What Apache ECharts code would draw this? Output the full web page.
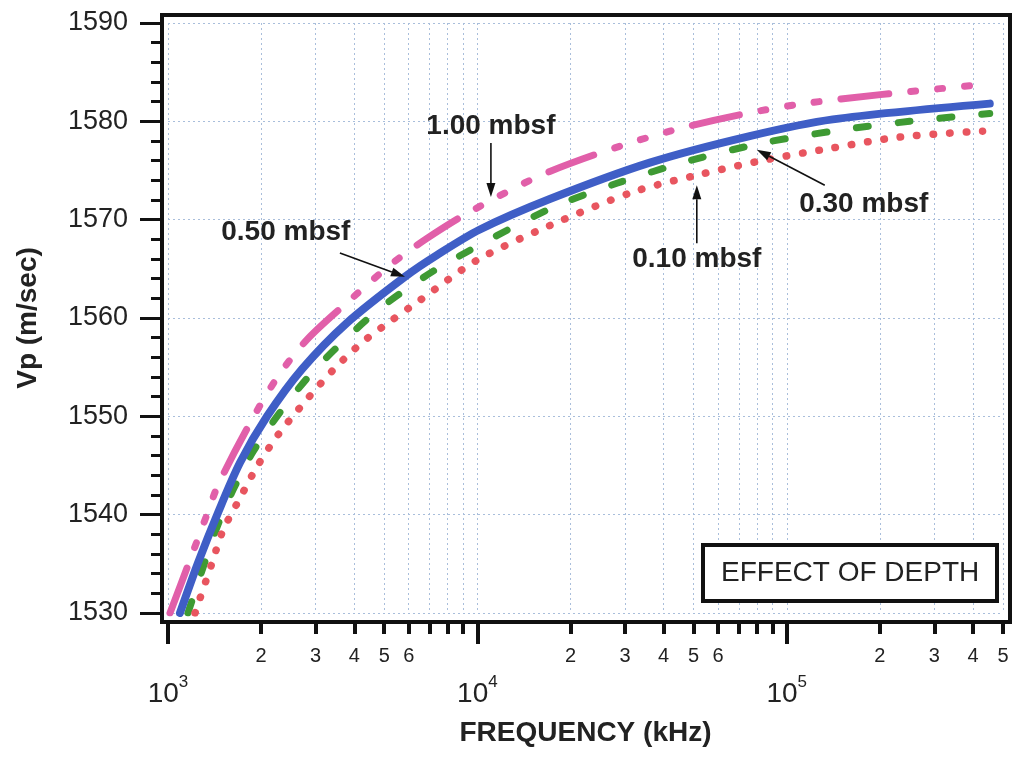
<!DOCTYPE html>
<html>
<head>
<meta charset="utf-8">
<script src="https://cdn.jsdelivr.net/npm/echarts@6/dist/echarts.min.js"></script>
<style>
  html, body { margin: 0; padding: 0; background: #fff; }
  #chart { width: 1014px; height: 757px; }
</style>
</head>
<body>
<div id="chart"></div>
<script>
// Compressional wave velocity versus frequency, one curve per sediment depth.
// Frequencies in kHz, velocities in m/sec.
const depthLabels = ['1.00 mbsf', '0.50 mbsf', '0.30 mbsf', '0.10 mbsf'];

const freq100 = [1015, 1178, 1336, 1451, 1812, 2249, 2814, 3963, 5330, 6870, 9460, 17140, 41900, 107700, 453000];
const vp100   = [1530.0, 1535.4, 1540.0, 1543.0, 1548.9, 1553.9, 1557.8, 1562.1, 1565.6, 1568.1, 1570.8, 1574.9, 1579.0, 1581.7, 1583.8];

const freq050 = [1093, 1250, 1451, 1710, 2090, 2711, 3786, 5833, 7400, 10190, 17140, 36100, 75900, 140900, 453000];
const vp050   = [1530.0, 1535.1, 1540.2, 1545.3, 1550.0, 1554.8, 1559.5, 1564.2, 1566.4, 1569.0, 1572.1, 1575.8, 1578.5, 1580.2, 1581.8];

const freq030 = [1160, 1297, 1439, 1622, 1883, 2301, 2876, 3675, 4770, 6190, 7970, 17140, 28240, 48600, 83600, 148300, 249600, 453000];
const vp030   = [1530.0, 1534.6, 1538.7, 1542.5, 1546.4, 1550.4, 1554.2, 1557.6, 1560.8, 1563.4, 1565.6, 1571.1, 1573.7, 1576.0, 1577.8, 1579.1, 1580.0, 1580.8];

const freq010 = [1223, 1388, 1506, 1710, 1941, 2266, 2773, 3415, 4236, 5300, 6520, 10000, 17140, 31750, 52400, 86100, 140900, 231700, 429500];
const vp010   = [1530.0, 1535.1, 1538.4, 1541.7, 1544.9, 1548.1, 1551.5, 1554.7, 1557.5, 1559.8, 1561.8, 1565.9, 1569.4, 1572.8, 1574.6, 1576.1, 1577.3, 1578.4, 1579.0];

// Axis ticks
const freqMajorTicks = [1e3, 1e4, 1e5];
const freqMinorTicks = [2e3, 3e3, 4e3, 5e3, 6e3, 7e3, 8e3, 9e3,
                        2e4, 3e4, 4e4, 5e4, 6e4, 7e4, 8e4, 9e4,
                        2e5, 3e5, 4e5, 5e5];
const freqMinorLabels = [2e3, 3e3, 4e3, 5e3, 6e3, 2e4, 3e4, 4e4, 5e4, 6e4, 2e5, 3e5, 4e5, 5e5];
const freqMin = 1e3, freqMax = 5e5;
const vpMin = 1530, vpMax = 1590, vpStep = 10;

const FONT = '"Liberation Sans", Arial, Helvetica, sans-serif';
const INK = '#222';
const GRID_LINE = { show: true, lineStyle: { color: '#a9bedb', width: 1, type: [2, 3] } };

function pairs(xs, ys) { return xs.map((x, i) => [x, ys[i]]); }

const chart = echarts.init(document.getElementById('chart'), null, { renderer: 'canvas' });

const option = {
  backgroundColor: '#fff',
  animation: false,
  title: {
    text: 'EFFECT OF DEPTH',
    left: 703, top: 545,
    padding: [14, 18],
    borderColor: '#111', borderWidth: 4,
    backgroundColor: '#fff',
    textStyle: { fontFamily: FONT, fontSize: 28, fontWeight: 'normal', color: INK }
  },
  grid: [
    { left: 168, right: 11, top: 23, bottom: 144, outerBoundsMode: 'none' },
    { left: 162, right: 4, top: 15, bottom: 135, show: true, borderColor: '#111', borderWidth: 4,
      backgroundColor: 'transparent', outerBoundsMode: 'none' }
  ],
  xAxis: [
    {
      // decades: long ticks and power-of-ten labels
      type: 'log', logBase: 10, gridIndex: 0, min: freqMin, max: freqMax,
      position: 'bottom', offset: 9,
      axisLine: { show: false },
      axisTick: { show: true, length: 22, customValues: freqMajorTicks, lineStyle: { color: '#111', width: 4 } },
      axisLabel: {
        customValues: freqMajorTicks, margin: 52,
        formatter: v => '{b|10}{s|' + Math.round(Math.log10(v)) + '}',
        rich: {
          b: { fontFamily: FONT, fontSize: 28, color: INK, lineHeight: 34, verticalAlign: 'bottom' },
          s: { fontFamily: FONT, fontSize: 17, color: INK, lineHeight: 17, verticalAlign: 'top' }
        }
      },
      splitLine: GRID_LINE,
      name: 'FREQUENCY (kHz)', nameLocation: 'middle', nameGap: 97,
      nameTextStyle: { fontFamily: FONT, fontSize: 28, fontWeight: 'bold', color: INK }
    },
    {
      // intermediate multiples inside each decade
      type: 'log', logBase: 10, gridIndex: 0, min: freqMin, max: freqMax,
      position: 'bottom', offset: 9,
      axisLine: { show: false },
      axisTick: { show: true, length: 12, customValues: freqMinorTicks, lineStyle: { color: '#111', width: 4 } },
      axisLabel: {
        customValues: freqMinorLabels, margin: 24,
        fontFamily: FONT, fontSize: 20, color: INK,
        formatter: v => String(Math.round(v / Math.pow(10, Math.floor(Math.log10(v) + 1e-9))))
      },
      splitLine: GRID_LINE
    },
    { type: 'value', gridIndex: 1, show: false, min: 0, max: 1 }
  ],
  yAxis: [
    {
      type: 'value', gridIndex: 0, min: vpMin, max: vpMax, interval: vpStep,
      position: 'left', offset: 6,
      axisLine: { show: false },
      axisTick: { show: true, length: 22, lineStyle: { color: '#111', width: 3 } },
      minorTick: { show: true, splitNumber: 5, length: 11, lineStyle: { color: '#111', width: 3 } },
      axisLabel: { margin: 34, fontFamily: FONT, fontSize: 27, color: INK, formatter: v => String(v) },
      splitLine: GRID_LINE,
      name: 'Vp (m/sec)', nameLocation: 'middle', nameRotate: 90, nameGap: 120,
      nameTextStyle: { fontFamily: FONT, fontSize: 28, fontWeight: 'bold', color: INK }
    },
    { type: 'value', gridIndex: 1, show: false, min: 0, max: 1 }
  ],
  series: [
    {
      name: depthLabels[0], type: 'line', xAxisIndex: 0, yAxisIndex: 0,
      data: pairs(freq100, vp100), showSymbol: false, symbol: 'none', smooth: 0.3, z: 3,
      lineStyle: { color: '#e15fa9', width: 7, cap: 'round', type: [48, 22, 5, 22, 5, 22, 5, 22] }
    },
    {
      name: depthLabels[2], type: 'line', xAxisIndex: 0, yAxisIndex: 0,
      data: pairs(freq030, vp030), showSymbol: false, symbol: 'none', smooth: 0.3, z: 3,
      lineStyle: { color: '#3e9a33', width: 7, cap: 'round', type: [12, 30] }
    },
    {
      name: depthLabels[3], type: 'line', xAxisIndex: 0, yAxisIndex: 0,
      data: pairs(freq010, vp010), showSymbol: false, symbol: 'none', smooth: 0.3, z: 3,
      lineStyle: { color: '#e8555f', width: 7.5, cap: 'round', type: [0.5, 16] }
    },
    {
      name: depthLabels[1], type: 'line', xAxisIndex: 0, yAxisIndex: 0,
      data: pairs(freq050, vp050), showSymbol: false, symbol: 'none', smooth: 0.3, z: 4,
      lineStyle: { color: '#3f5ec6', width: 8, cap: 'round' }
    }
  ]
};

chart.setOption(option);

// Callouts: label centre, arrow tail and arrow tip, all in (kHz, m/sec)
const callouts = [
  { text: depthLabels[0], at: [11060, 1579.5], from: [11060, 1577.8], to: [11060, 1572.3] },
  { text: depthLabels[1], at: [2404, 1568.7], from: [3594, 1566.6], to: [5833, 1564.2] },
  { text: depthLabels[2], at: [177400, 1571.6], from: [132700, 1573.5], to: [80000, 1577.1] },
  { text: depthLabels[3], at: [51200, 1566.0], from: [51200, 1567.6], to: [51200, 1573.5] }
];

function px(p) { return chart.convertToPixel({ xAxisIndex: 0, yAxisIndex: 0 }, p); }

function arrowElements(p0, p1) {
  const dx = p1[0] - p0[0], dy = p1[1] - p0[1];
  const len = Math.hypot(dx, dy) || 1;
  const ux = dx / len, uy = dy / len;
  const headL = 14, headW = 4.5;
  const base = [p1[0] - ux * headL, p1[1] - uy * headL];
  return [
    { type: 'line', z: 20, shape: { x1: p0[0], y1: p0[1], x2: base[0], y2: base[1] },
      style: { stroke: '#111', lineWidth: 1.6 } },
    { type: 'polygon', z: 20,
      shape: { points: [p1, [base[0] - uy * headW, base[1] + ux * headW], [base[0] + uy * headW, base[1] - ux * headW]] },
      style: { fill: '#111' } }
  ];
}

const elements = [];
callouts.forEach(c => {
  const a = px(c.at);
  elements.push({
    type: 'text', x: a[0], y: a[1], z: 20,
    style: { text: c.text, fontFamily: FONT, fontSize: 28, fontWeight: 'bold', fill: INK,
             align: 'center', verticalAlign: 'middle' }
  });
  arrowElements(px(c.from), px(c.to)).forEach(e => elements.push(e));
});
chart.setOption({ graphic: { elements: elements } });
</script>
</body>
</html>
